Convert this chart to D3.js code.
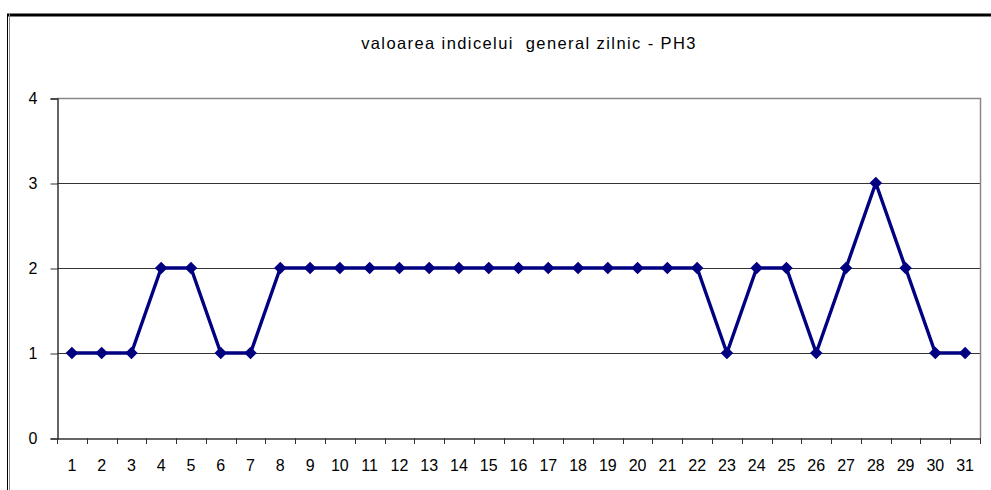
<!DOCTYPE html>
<html>
<head>
<meta charset="utf-8">
<script src="https://cdn.jsdelivr.net/npm/d3@7"></script>
<style>
  body { margin: 0; background: #fff; }
  svg { display: block; }
</style>
</head>
<body>
<div id="chart"></div>
<script>
// zile (1..31) si valoarea indicelui
var days = d3.range(1, 32).map(String);
var values = [1, 1, 1, 2, 2, 1, 1, 2, 2, 2, 2, 2, 2, 2, 2, 2, 2, 2, 2, 2, 2, 2, 1, 2, 2, 1, 2, 3, 2, 1, 1];
var yTicks = [0, 1, 2, 3, 4];
var title = "valoarea indicelui  general zilnic - PH3";

var w = 991, h = 490;
var plotL = 57, plotR = 980, plotT = 98, plotB = 438;
var navy = "#000080";
var font = "Liberation Sans, Arial, sans-serif";

var svg = d3.select("#chart").append("svg").attr("width", w).attr("height", h);

// outer frame (top + double left)
svg.append("line").attr("x1", 7).attr("x2", w).attr("y1", 15).attr("y2", 15)
    .attr("stroke", "#000").attr("stroke-width", 3);
svg.append("line").attr("x1", 7.5).attr("x2", 7.5).attr("y1", 14).attr("y2", h)
    .attr("stroke", "#000").attr("stroke-width", 1);
svg.append("line").attr("x1", 9.5).attr("x2", 9.5).attr("y1", 14).attr("y2", h)
    .attr("stroke", "#888").attr("stroke-width", 1);

svg.append("text")
    .attr("x", 529).attr("y", 49)
    .attr("text-anchor", "middle")
    .attr("font-family", font)
    .attr("font-size", "16.5px")
    .attr("letter-spacing", "1.4px")
    .attr("fill", "#000")
    .style("white-space", "pre")
    .text(title);

var x = d3.scaleBand().domain(days).range([plotL, plotR]);
var y = d3.scaleLinear().domain([0, 4]).range([plotB, plotT]);

// grid lines
svg.append("g").selectAll("line")
    .data(yTicks.filter(function(d) { return d > 0 && d < 4; }))
    .enter().append("line")
    .attr("x1", plotL).attr("x2", plotR)
    .attr("y1", function(d) { return Math.round(y(d)) + 0.5; })
    .attr("y2", function(d) { return Math.round(y(d)) + 0.5; })
    .attr("stroke", "#333").attr("stroke-width", 1);

// plot area border (top/right gray)
svg.append("path")
    .attr("d", "M" + plotL + "," + (plotT + 0.5) + "H" + (plotR + 0.5) + "V" + plotB)
    .attr("fill", "none").attr("stroke", "#888").attr("stroke-width", 1.5);

// y axis
var yAxis = svg.append("g")
    .attr("transform", "translate(" + (plotL + 0.5) + ",0.5)")
    .call(d3.axisLeft(y).tickValues(yTicks).tickFormat(d3.format("d")).tickSize(7).tickPadding(13));
yAxis.selectAll("text").attr("font-family", font).attr("font-size", "16px").attr("fill", "#000");
yAxis.selectAll("line").attr("stroke", "#333");
yAxis.select(".domain").attr("stroke", "#333").attr("stroke-width", 1.5);

// x axis
var xAxis = svg.append("g")
    .attr("transform", "translate(0," + (plotB + 0.5) + ")")
    .call(d3.axisBottom(x).tickSize(0).tickPadding(21));
xAxis.select(".domain").attr("stroke", "#333").attr("stroke-width", 1.5);
xAxis.selectAll("text").attr("font-family", font).attr("font-size", "16px").attr("fill", "#000");

// category boundary ticks
var bounds = days.map(function(d) { return x(d); }).concat([plotR]);
svg.append("g").selectAll("line").data(bounds).enter().append("line")
    .attr("x1", function(d) { return Math.round(d) + 0.5; })
    .attr("x2", function(d) { return Math.round(d) + 0.5; })
    .attr("y1", plotB).attr("y2", plotB + 6)
    .attr("stroke", "#333").attr("stroke-width", 1);

// line series
var line = d3.line()
    .x(function(d, i) { return x(days[i]) + x.bandwidth() / 2; })
    .y(function(d) { return y(d); });

svg.append("path")
    .datum(values)
    .attr("d", line)
    .attr("fill", "none")
    .attr("stroke", navy)
    .attr("stroke-width", 3.4)
    .attr("stroke-linejoin", "round");

svg.append("g").selectAll("path").data(values).enter().append("path")
    .attr("d", d3.symbol().type(d3.symbolDiamond2).size(100))
    .attr("transform", function(d, i) {
        return "translate(" + (x(days[i]) + x.bandwidth() / 2) + "," + y(d) + ")";
    })
    .attr("fill", navy);
</script>
</body>
</html>
